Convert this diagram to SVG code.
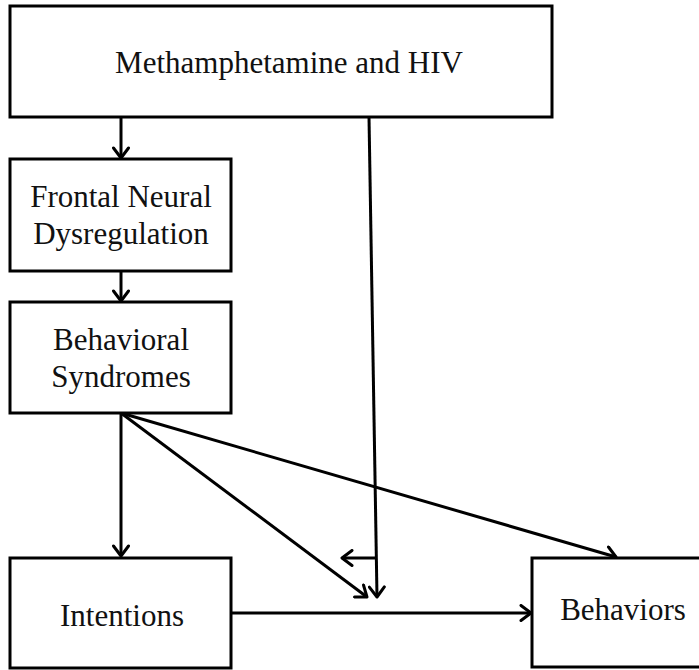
<svg xmlns="http://www.w3.org/2000/svg" width="699" height="670" viewBox="0 0 699 670">
<defs>
<style>
.box{fill:#fff;stroke:#000;stroke-width:3}
.lbl{font-family:"Liberation Serif","Times New Roman",serif;font-size:31px;fill:#111;text-anchor:middle}
.con{fill:none;stroke:#000;stroke-width:3}
</style>
<marker id="arr" markerUnits="userSpaceOnUse" markerWidth="16" markerHeight="18" refX="12" refY="9" orient="auto" viewBox="0 0 16 18">
<path d="M2,1.5 L12,9 L2,16.5" fill="none" stroke="#000" stroke-width="3" stroke-linecap="round" stroke-linejoin="round"/>
</marker>
</defs>
<rect width="699" height="670" fill="#fff"/>
<g id="connectors">
<line class="con" x1="121" y1="117" x2="121" y2="158" marker-end="url(#arr)"/>
<line class="con" x1="121" y1="271" x2="121" y2="301" marker-end="url(#arr)"/>
<line class="con" x1="121" y1="413" x2="121" y2="556" marker-end="url(#arr)"/>
<line class="con" x1="121" y1="413" x2="367" y2="597" marker-end="url(#arr)"/>
<line class="con" x1="121" y1="413" x2="616" y2="557" marker-end="url(#arr)"/>
<line class="con" x1="369" y1="117" x2="377" y2="597" marker-end="url(#arr)"/>
<line class="con" x1="377" y1="558" x2="342" y2="558" marker-end="url(#arr)"/>
<line class="con" x1="231" y1="613" x2="531" y2="613" marker-end="url(#arr)"/>
</g>
<g id="meth">
<rect class="box" x="10" y="6" width="542" height="111"/>
<text class="lbl" x="289" y="73">Methamphetamine and HIV</text>
</g>
<g id="frontal">
<rect class="box" x="10" y="159" width="221" height="112"/>
<text class="lbl" x="121" y="207">Frontal Neural</text>
<text class="lbl" x="121" y="244">Dysregulation</text>
</g>
<g id="behavioral">
<rect class="box" x="10" y="302" width="221" height="111"/>
<text class="lbl" x="121" y="350">Behavioral</text>
<text class="lbl" x="121" y="387">Syndromes</text>
</g>
<g id="intentions">
<rect class="box" x="10" y="558" width="221" height="110"/>
<text class="lbl" x="122" y="626">Intentions</text>
</g>
<g id="behaviors">
<rect class="box" x="532" y="558" width="190" height="109"/>
<text class="lbl" x="623" y="620">Behaviors</text>
</g>
</svg>
